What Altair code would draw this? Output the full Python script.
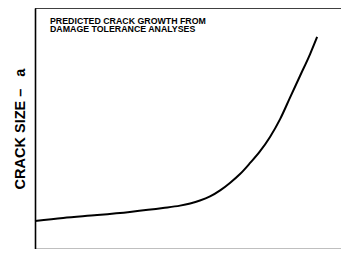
import altair as alt
import pandas as pd

# Crack growth curve (arbitrary units: time 0-100, crack size 0-100)
time_vals = [0, 9.2, 20.3, 31.0, 41.8, 47.4, 50.7, 53.9, 57.2, 60.5, 63.7, 67.0, 70.3,
             73.5, 76.8, 80.1, 83.3, 86.6, 89.9, 92.2]
crack_vals = [11.6, 12.9, 14.1, 15.4, 17.0, 18.0, 18.9, 20.1, 21.8, 24.3, 27.4, 31.1, 35.7,
              40.5, 46.5, 53.9, 62.7, 71.8, 80.9, 88.0]

note_lines = ["PREDICTED CRACK GROWTH FROM", "DAMAGE TOLERANCE ANALYSES"]
note_x = [4.9, 4.9]
note_y = [93.2, 90.0]

y_title = "CRACK SIZE\u00a0\u2013\u00a0\u00a0\u00a0a"

curve = pd.DataFrame({"t": time_vals, "a": crack_vals})
notes = pd.DataFrame({"x": note_x, "y": note_y, "text": note_lines})

xs = alt.Scale(domain=[0, 100], nice=False, zero=False)
ys = alt.Scale(domain=[0, 100], nice=False, zero=False)

line = alt.Chart(curve).mark_line(color="black", strokeWidth=2, interpolate="monotone").encode(
    x=alt.X("t:Q", scale=xs, axis=alt.Axis(title=None, labels=False, ticks=False, grid=False,
                                           domainColor="black", domainWidth=1.6)),
    y=alt.Y("a:Q", scale=ys, axis=alt.Axis(title=y_title, labels=False, ticks=False, grid=False,
                                           domainColor="black", domainWidth=1.6,
                                           titleFont="Liberation Sans", titleFontSize=14.5,
                                           titleFontWeight="bold", titleColor="black",
                                           titlePadding=8)),
)

text = alt.Chart(notes).mark_text(
    align="left", baseline="alphabetic", font="Liberation Sans", fontSize=8.8,
    fontWeight="bold", color="black"
).encode(x=alt.X("x:Q", scale=xs), y=alt.Y("y:Q", scale=ys), text="text:N")

top = alt.Chart(pd.DataFrame({"v": [100]})).mark_rule(color="black", strokeWidth=1.6).encode(
    y=alt.Y("v:Q", scale=ys), x=alt.value(0), x2=alt.value(306)
)

chart = alt.layer(line, text, top).properties(
    width=306, height=241,
    padding={"left": 27, "top": 0, "right": 0, "bottom": 0},
    autosize=alt.AutoSizeParams(type="none"),
).configure_view(stroke=None)

chart.save("out.html", embed_options={"renderer": "svg", "actions": False})
